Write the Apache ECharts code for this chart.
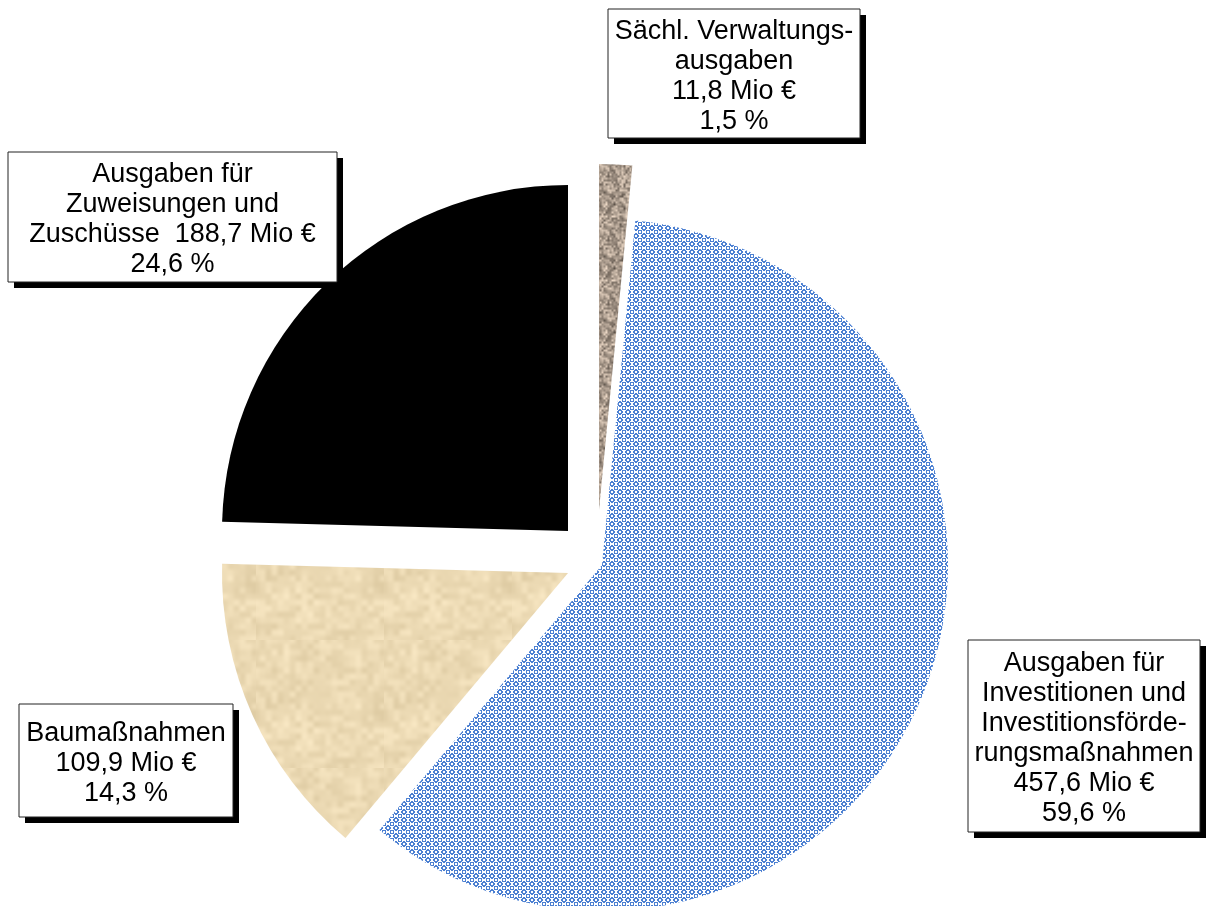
<!DOCTYPE html>
<html><head><meta charset="utf-8">
<script src="https://cdn.jsdelivr.net/npm/echarts@6/dist/echarts.min.js"></script>
<style>html,body{margin:0;padding:0;background:#fff}#c{width:1209px;height:906px}</style>
</head><body><div id="c"></div>
<script>
// ---- data ----
const categories = ['Sächl. Verwaltungsausgaben', 'Ausgaben für Investitionen und Investitionsförderungsmaßnahmen', 'Baumaßnahmen', 'Ausgaben für Zuweisungen und Zuschüsse'];
const labelLines = [
  ['Sächl. Verwaltungs-', 'ausgaben'],
  ['Ausgaben für', 'Investitionen und', 'Investitionsförde-', 'rungsmaßnahmen'],
  ['Baumaßnahmen'],
  ['Ausgaben für', 'Zuweisungen und', 'Zuschüsse']
];
const valueOnLastLine = [false, false, false, true];
const valuesMio = [11.8, 457.6, 109.9, 188.7];
const percents = [1.5, 59.6, 14.3, 24.6];

// ---- layout / style ----
const sliceCenters = [[599, 510], [602, 565], [568, 573], [568, 531]];
const radius = 346;
const boxes = [
  {x: 608, y: 9, w: 252, h: 129},
  {x: 968, y: 640, w: 232, h: 192},
  {x: 19, y: 704, w: 214, h: 113},
  {x: 8, y: 152, w: 329, h: 130}
];

function hash(x, y, s) {
  let h = (x * 374761393 + y * 668265263 + s * 982451653) | 0;
  h = Math.imul(h ^ (h >>> 13), 1274126177);
  h = h ^ (h >>> 16);
  return (h >>> 0) / 4294967296;
}
function valueNoise(x, y, cell, size, s) {
  const n = size / cell;
  const gx = x / cell, gy = y / cell;
  const x0 = Math.floor(gx), y0 = Math.floor(gy);
  const fx = gx - x0, fy = gy - y0;
  const sx = fx * fx * (3 - 2 * fx), sy = fy * fy * (3 - 2 * fy);
  const v = (a, b) => hash(((a % n) + n) % n, ((b % n) + n) % n, s);
  const a = v(x0, y0), b = v(x0 + 1, y0), c = v(x0, y0 + 1), d = v(x0 + 1, y0 + 1);
  return (a * (1 - sx) + b * sx) * (1 - sy) + (c * (1 - sx) + d * sx) * sy;
}
function noiseTexture(size, base, range, cells, seed) {
  const cv = document.createElement('canvas');
  cv.width = size; cv.height = size;
  const ctx = cv.getContext('2d');
  const img = ctx.createImageData(size, size);
  for (let y = 0; y < size; y++) {
    for (let x = 0; x < size; x++) {
      let n = 0, wsum = 0;
      cells.forEach((c, k) => { const w = 1 / (k + 1); n += w * valueNoise(x, y, c, size, seed + k); wsum += w; });
      n = n / wsum - 0.5;
      const i = (y * size + x) * 4;
      img.data[i] = base[0] + n * range[0];
      img.data[i + 1] = base[1] + n * range[1];
      img.data[i + 2] = base[2] + n * range[2];
      img.data[i + 3] = 255;
    }
  }
  ctx.putImageData(img, 0, 0);
  return cv;
}
function blueTexture() {
  const cv = document.createElement('canvas');
  cv.width = 8; cv.height = 8;
  const ctx = cv.getContext('2d');
  ctx.fillStyle = '#ffffff';
  ctx.fillRect(0, 0, 8, 8);
  ctx.fillStyle = '#4c80d2';
  for (let y = 0; y < 8; y++) for (let x = 0; x < 8; x++) {
    const px = x + 0.5, py = y + 0.5;
    const dc = Math.hypot(px - 4, py - 4);
    const dk = Math.min(Math.hypot(px, py), Math.hypot(px - 8, py), Math.hypot(px, py - 8), Math.hypot(px - 8, py - 8));
    if ((dc >= 1.5 && dc < 2.8) || (dk >= 1.2 && dk < 2.2)) ctx.fillRect(x, y, 1, 1);
  }
  return cv;
}
const brownTex = noiseTexture(64, [168, 153, 139], [150, 140, 130], [2, 4], 7);
const beigeTex = noiseTexture(128, [236, 218, 180], [28, 30, 34], [6, 16], 3);
const sliceFills = [
  {image: brownTex, repeat: 'repeat'},
  {image: blueTexture(), repeat: 'repeat'},
  {image: beigeTex, repeat: 'repeat'},
  '#000000'
];

const fmt = v => v.toFixed(1).replace('.', ',');
function labelText(i) {
  const lines = labelLines[i].slice();
  const valStr = fmt(valuesMio[i]) + ' Mio €';
  if (valueOnLastLine[i]) lines[lines.length - 1] += '  ' + valStr;
  else lines.push(valStr);
  lines.push(fmt(percents[i]) + ' %');
  return lines.join('\n');
}

const series = categories.map((name, k) => ({
  type: 'pie',
  name: name,
  center: sliceCenters[k],
  radius: [0, radius],
  startAngle: 90,
  clockwise: true,
  silent: true,
  animation: false,
  z: 2,
  label: {show: false},
  labelLine: {show: false},
  emphasis: {disabled: true},
  data: valuesMio.map((v, i) => ({
    name: categories[i],
    value: v,
    itemStyle: {color: i === k ? sliceFills[i] : 'rgba(0,0,0,0)', borderWidth: 0}
  }))
}));

const graphic = boxes.map((b, i) => ({
  type: 'group',
  x: b.x, y: b.y, z: 100,
  children: [
    {type: 'rect', shape: {x: 6, y: 6, width: b.w, height: b.h}, style: {fill: '#000'}, z: 100},
    {type: 'rect', shape: {x: 0, y: 0, width: b.w, height: b.h}, style: {fill: '#fff', stroke: '#222', lineWidth: 1}, z: 101},
    {type: 'text', x: b.w / 2, y: b.h / 2 + 3, z: 102,
      style: {text: labelText(i), fill: '#000', align: 'center', verticalAlign: 'middle',
        fontFamily: 'Liberation Sans, Arial, sans-serif', fontSize: 27, lineHeight: 30}}
  ]
}));

const chart = echarts.init(document.getElementById('c'), null, {renderer: 'canvas'});
chart.setOption({
  backgroundColor: '#ffffff',
  animation: false,
  series: series,
  graphic: graphic
});
</script>
</body></html>
